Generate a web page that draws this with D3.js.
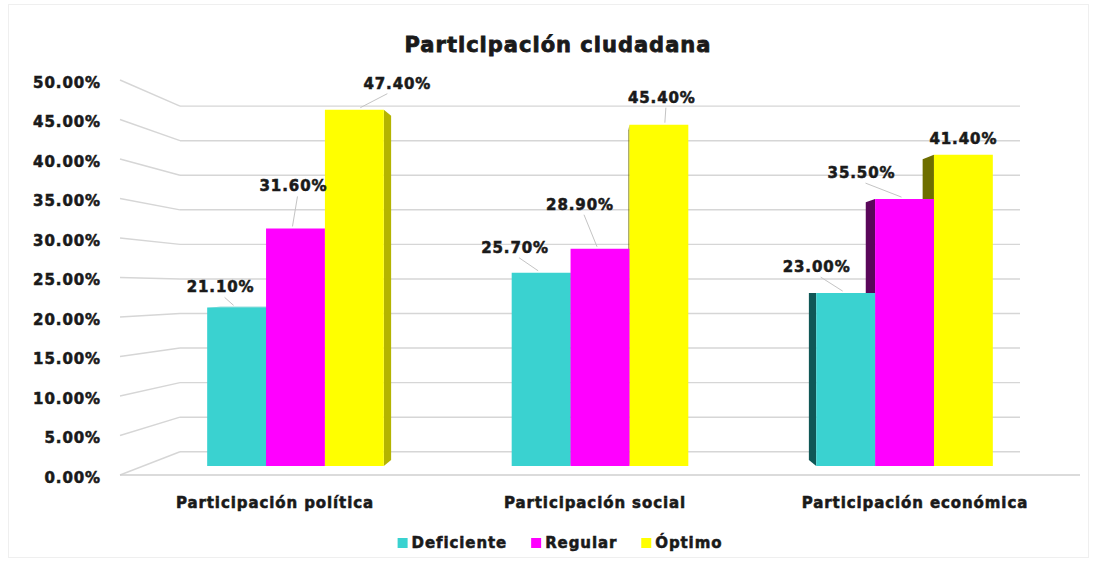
<!DOCTYPE html>
<html><head><meta charset="utf-8">
<script src="https://cdn.jsdelivr.net/npm/d3@7"></script>
<style>
body{margin:0;background:#fff}
text{font-family:"DejaVu Sans",sans-serif;font-weight:bold;fill:#1a1a1a;stroke:#1a1a1a;stroke-width:0.55px}
</style>
</head><body>
<svg id="c" width="1096" height="561"></svg>
<script>
// ---------- data ----------
const title = "Participación ciudadana";
const categories = ["Participación política", "Participación social", "Participación económica"];
const seriesNames = ["Deficiente", "Regular", "Óptimo"];
const deficiente = [21.1, 25.7, 23.0];
const regular = [31.6, 28.9, 35.5];
const optimo = [47.4, 45.4, 41.4];
const yTicks = [0, 5, 10, 15, 20, 25, 30, 35, 40, 45, 50];

// ---------- styling / layout ----------
const colors = ["#3ad2d0", "#ff00ff", "#ffff00"];
const sideColorsR = ["#1f7f7e", "#a000a0", "#b4b400"];
const sideColorsL = ["#0f5756", "#5a075a", "#6e6e00"];
// data-label offsets (dx, dy) from the bar's top-centre, per category then series
const labelOffsets = [
  [[-16, -20], [-2, -42], [43, -26]],
  [[-26, -25], [-20, -44], [3, -27]],
  [[-29, -26], [-43, -26], [0, -16]]
];

const svg = d3.select("#c");
const VP = [600, 289];            // vanishing point
const depthK = 0.125;             // shrink at back wall
const zFront = 0.387, zBack = 0.645;
const s = z => 1 - depthK * z;
const proj = (X, Y, z) => [VP[0] + (X - VP[0]) * s(z), VP[1] + (Y - VP[1]) * s(z)];

const y = d3.scaleLinear().domain([0, 50]).range([475, 80]);
const x0 = d3.scaleBand().domain(categories).range([120, 1080]).paddingInner(0.42).paddingOuter(0.21);
const x1 = d3.scaleBand().domain(seriesNames).range([0, x0.bandwidth()]);

const seriesValues = [deficiente, regular, optimo];

// light outer border
svg.append("rect").attr("x", 8.5).attr("y", 4.5).attr("width", 1080).attr("height", 553)
  .attr("fill", "none").attr("stroke", "#efefef");

// ---------- walls / gridlines ----------
const grid = svg.append("g").attr("stroke", "#d6d6d6").attr("stroke-width", 1.4).attr("fill", "none");
const line = d3.line();
yTicks.forEach(t => {
  grid.append("path").attr("d", line([proj(120, y(t), 1), proj(1080, y(t), 1)]));
  grid.append("path").attr("d", line([proj(120, y(t), 0), proj(120, y(t), 1)]));
});
// floor front edge
grid.append("path").attr("d", line([proj(120, y(0), 0), proj(1080, y(0), 0)])).attr("stroke", "#cfcfcf");

// y-axis labels
svg.append("g").selectAll("text").data(yTicks).join("text")
  .attr("x", 101).attr("y", d => y(d) + 2.5)
  .attr("text-anchor", "end").attr("dominant-baseline", "central")
  .style("font-size", "15px").style("letter-spacing", "0.9px")
  .text(d => d.toFixed(2) + "%");

// ---------- bars ----------
const bars = [];
categories.forEach((c, ci) => {
  seriesNames.forEach((sn, si) => {
    const X0 = x0(c) + x1(sn), X1 = X0 + x1.bandwidth();
    bars.push({ci, si, X0, X1, v: seriesValues[si][ci]});
  });
});
bars.sort((a, b) => Math.abs((b.X0 + b.X1) / 2 - VP[0]) - Math.abs((a.X0 + a.X1) / 2 - VP[0]));

const gb = svg.append("g");
const poly = pts => "M" + pts.map(p => p.join(",")).join("L") + "Z";
bars.forEach(b => {
  const Yt = y(b.v), Yb = y(0);
  const g = gb.append("g");
  if (b.X1 < VP[0]) {
    g.append("path").attr("fill", sideColorsR[b.si])
      .attr("d", poly([proj(b.X1, Yt, zFront), proj(b.X1, Yt, zBack), proj(b.X1, Yb, zBack), proj(b.X1, Yb, zFront)]));
  }
  if (b.X0 > VP[0]) {
    g.append("path").attr("fill", sideColorsL[b.si])
      .attr("d", poly([proj(b.X0, Yt, zFront), proj(b.X0, Yt, zBack), proj(b.X0, Yb, zBack), proj(b.X0, Yb, zFront)]));
  }
  if (Yt > VP[1]) {
    g.append("path").attr("fill", d3.color(colors[b.si]).darker(0.3))
      .attr("d", poly([proj(b.X0, Yt, zFront), proj(b.X0, Yt, zBack), proj(b.X1, Yt, zBack), proj(b.X1, Yt, zFront)]));
  }
  g.append("path").attr("fill", colors[b.si])
    .attr("d", poly([proj(b.X0, Yt, zFront), proj(b.X1, Yt, zFront), proj(b.X1, Yb, zFront), proj(b.X0, Yb, zFront)]));
});

// ---------- data labels ----------
const gl = svg.append("g");
categories.forEach((c, ci) => {
  seriesNames.forEach((sn, si) => {
    const v = seriesValues[si][ci];
    const X0 = x0(c) + x1(sn), X1 = X0 + x1.bandwidth();
    const top = proj((X0 + X1) / 2, y(v), zFront);
    const [dx, dy] = labelOffsets[ci][si];
    const lx = top[0] + dx, ly = top[1] + dy;
    if (Math.hypot(dx, dy) > 24) {
      const ex = top[0] - (dx > 0 ? -6 : 3), ey = top[1] - 2;
      gl.append("path").attr("d", line([[lx + (dx > 25 ? -10 : 4), ly + 10], [ex, ey]]))
        .attr("stroke", "#c4c4c4").attr("stroke-width", 1).attr("fill", "none");
    }
    gl.append("text").attr("x", lx).attr("y", ly)
      .attr("text-anchor", "middle").attr("dominant-baseline", "central")
      .style("font-size", "15px").style("letter-spacing", "0.9px")
      .text(v.toFixed(2) + "%");
  });
});

// ---------- category labels ----------
svg.append("g").selectAll("text").data(categories).join("text")
  .attr("x", d => x0(d) + x0.bandwidth() / 2 - 5).attr("y", 503)
  .attr("text-anchor", "middle").attr("dominant-baseline", "central")
  .style("font-size", "15px").style("letter-spacing", "0.9px")
  .text(d => d);

// ---------- title ----------
svg.append("text").attr("x", 558).attr("y", 45)
  .attr("text-anchor", "middle").attr("dominant-baseline", "central")
  .style("font-size", "21px").style("letter-spacing", "1px")
  .style("stroke-width", "0.8px")
  .text(title);

// ---------- legend ----------
const legendY = 543;
const lg = svg.append("g");
let cx = 0;
seriesNames.forEach((sn, i) => {
  const it = lg.append("g");
  it.append("rect").attr("x", cx).attr("y", legendY - 5).attr("width", 10).attr("height", 10).attr("fill", colors[i]);
  const t = it.append("text").attr("x", cx + 14).attr("y", legendY).attr("dominant-baseline", "central")
    .style("font-size", "15px").style("letter-spacing", "0.9px").text(sn);
  cx += 14 + t.node().getComputedTextLength() + 24;
});
const total = cx - 24;
lg.attr("transform", `translate(${560 - total / 2},0)`);
</script>
</body></html>
